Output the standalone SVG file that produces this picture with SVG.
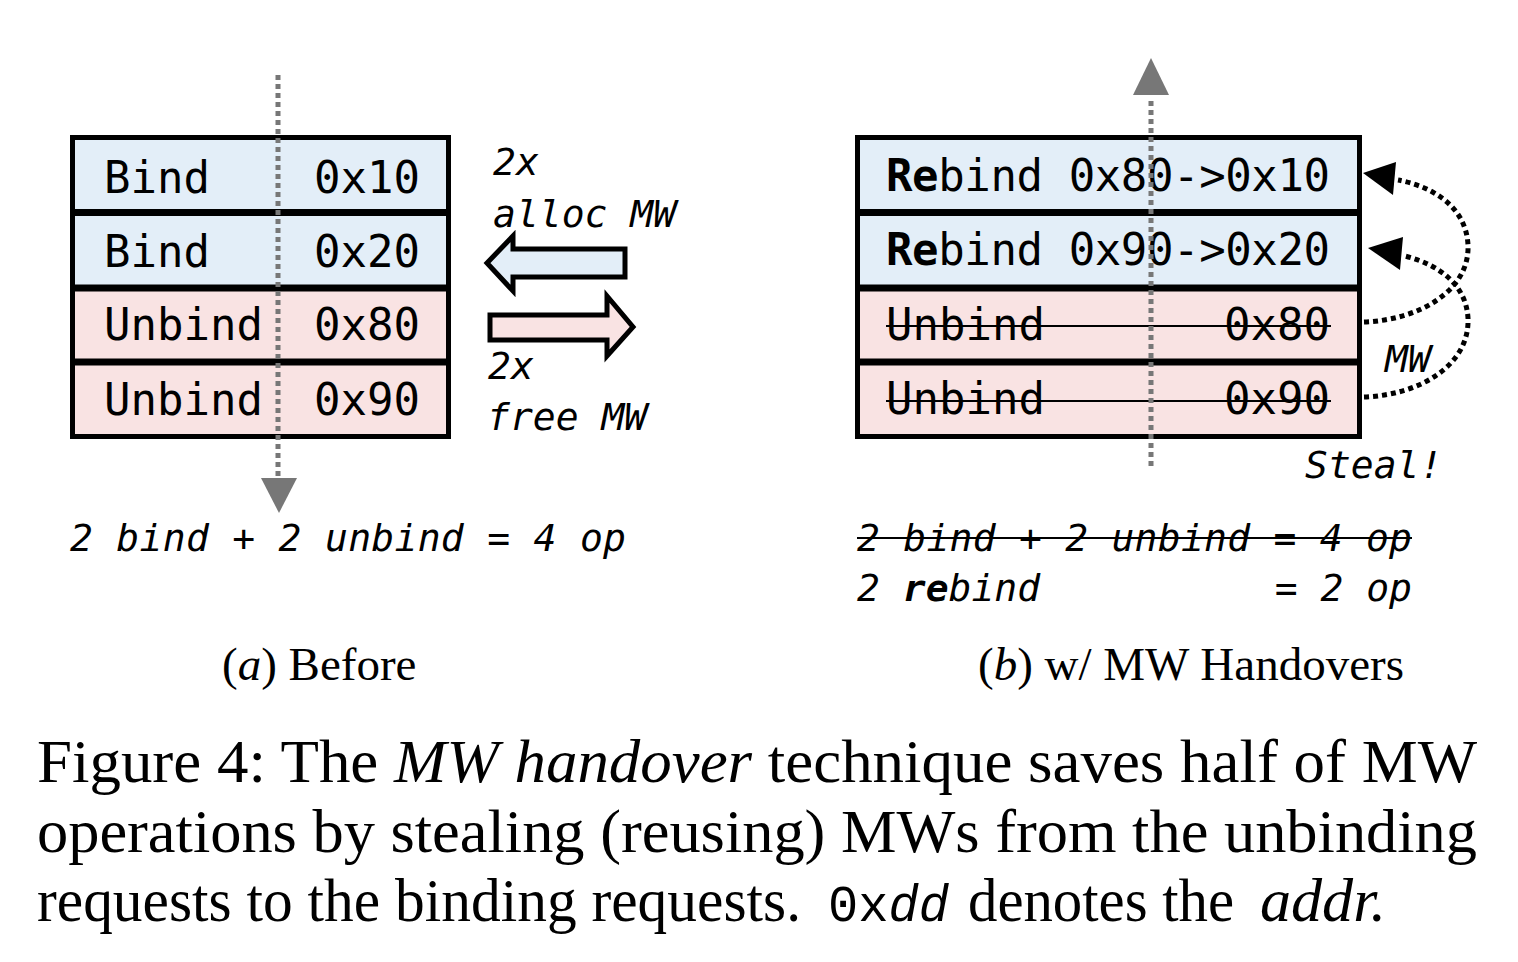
<svg xmlns="http://www.w3.org/2000/svg" width="1518" height="962" viewBox="0 0 1518 962">
<defs>
<style>
.mono{font-family:"DejaVu Sans Mono","Liberation Mono",monospace;font-size:44px;fill:#000}
.it{font-family:"DejaVu Sans Mono","Liberation Mono",monospace;font-size:38px;font-style:italic;fill:#000}
.serif{font-family:"Liberation Serif","Times New Roman",serif;fill:#000}
.blue{fill:#e3eef8;stroke:#000;stroke-width:5}
.pink{fill:#f9e3e3;stroke:#000;stroke-width:5}
.axis{stroke:#777;stroke-width:5;stroke-dasharray:5 4;fill:none}
.steal{stroke:#000;stroke-width:5;stroke-dasharray:5 4;fill:none}
.strike{stroke:#000;stroke-width:2}
.blk{stroke:#000;stroke-width:5;stroke-linejoin:miter}
</style>
</defs>
<rect width="1518" height="962" fill="#fff"/>

<!-- Left (a) rows -->
<g id="a-row1"><rect class="blue" x="72.5" y="137.5" width="376" height="74"/><text class="mono" x="104" y="193">Bind</text><text class="mono" x="314" y="193">0x10</text></g>
<g id="a-row2"><rect class="blue" x="72.5" y="213.5" width="376" height="73.5"/><text class="mono" x="104" y="267">Bind</text><text class="mono" x="314" y="267">0x20</text></g>
<g id="a-row3"><rect class="pink" x="72.5" y="289" width="376" height="72"/><text class="mono" x="104" y="340">Unbind</text><text class="mono" x="314" y="340">0x80</text></g>
<g id="a-row4"><rect class="pink" x="72.5" y="363" width="376" height="73.5"/><text class="mono" x="104" y="415">Unbind</text><text class="mono" x="314" y="415">0x90</text></g>

<!-- Right (b) rows -->
<g id="b-row1"><rect class="blue" x="857.5" y="137.5" width="502" height="74"/><text class="mono" x="886" y="191" textLength="444"><tspan font-weight="bold">Re</tspan>bind 0x80-&gt;0x10</text></g>
<g id="b-row2"><rect class="blue" x="857.5" y="213.5" width="502" height="73.5"/><text class="mono" x="886" y="265" textLength="444"><tspan font-weight="bold">Re</tspan>bind 0x90-&gt;0x20</text></g>
<g id="b-row3"><rect class="pink" x="857.5" y="289" width="502" height="72"/><text class="mono" x="886" y="340">Unbind</text><text class="mono" x="1330" y="340" text-anchor="end">0x80</text><line class="strike" x1="886" y1="326" x2="1331" y2="326"/></g>
<g id="b-row4"><rect class="pink" x="857.5" y="363" width="502" height="73.5"/><text class="mono" x="886" y="414">Unbind</text><text class="mono" x="1330" y="414" text-anchor="end">0x90</text><line class="strike" x1="886" y1="401" x2="1331" y2="401"/></g>

<!-- Block arrows -->
<g id="alloc-arrow"><polygon class="blk" fill="#e3eef8" points="625,249 513,249 513,236 487,263 513,291 513,277 625,277"/></g>
<g id="free-arrow"><polygon class="blk" fill="#f9e3e3" points="490,315 607,315 607,296 633,327 607,356 607,340 490,340"/></g>

<!-- Connectors -->
<g id="connectors">
<line class="axis" x1="278" y1="75" x2="278" y2="478"/>
<polygon fill="#777" points="261,478 297,478 279,513"/>
<line class="axis" x1="1151" y1="466" x2="1151" y2="97"/>
<polygon fill="#777" points="1133,95 1169,95 1151,58"/>
<path class="steal" d="M1364,322 C1420,320 1470,290 1468,245 C1466,205 1430,186 1398,180"/>
<polygon fill="#000" points="1363,173 1396,162 1393,195"/>
<path class="steal" d="M1364,397 C1420,395 1470,365 1468,318 C1466,285 1440,265 1405,256"/>
<polygon fill="#000" points="1368,248 1403,237 1400,270"/>
</g>

<!-- Labels -->
<g id="labels">
<text class="it" x="493" y="175">2x</text>
<text class="it" x="493" y="227">alloc MW</text>
<text class="it" x="488" y="379">2x</text>
<text class="it" x="487" y="430">free MW</text>
<text class="it" x="1385" y="372">MW</text>
<text class="it" x="1305" y="478">Steal!</text>
<text class="it" x="70" y="551" textLength="556">2 bind + 2 unbind = 4 op</text>
<text class="it" x="857" y="551" textLength="555">2 bind + 2 unbind = 4 op</text>
<line class="strike" x1="857" y1="538" x2="1412" y2="538"/>
<text class="it" x="857" y="601">2 <tspan font-weight="bold">re</tspan>bind</text>
<text class="it" x="1412" y="601" text-anchor="end">= 2 op</text>
</g>

<!-- Sub-captions -->
<g id="subcaptions">
<text class="serif" font-size="47" x="222" y="680">(<tspan font-style="italic">a</tspan>) Before</text>
<text class="serif" font-size="47" x="978" y="680">(<tspan font-style="italic">b</tspan>) w/ MW Handovers</text>
</g>

<!-- Caption -->
<g id="caption">
<text class="serif" font-size="62" x="37" y="782" textLength="1440" lengthAdjust="spacingAndGlyphs">Figure 4: The <tspan font-style="italic">MW handover</tspan> technique saves half of MW</text>
<text class="serif" font-size="62" x="37" y="852" textLength="1440" lengthAdjust="spacingAndGlyphs">operations by stealing (reusing) MWs from the unbinding</text>
<text class="serif" font-size="62" x="37" y="921" textLength="764" lengthAdjust="spacingAndGlyphs">requests to the binding requests.</text>
<text font-family="Liberation Mono, monospace" font-size="52" x="828" y="921" textLength="121" lengthAdjust="spacingAndGlyphs">0x<tspan font-style="italic">dd</tspan></text>
<text class="serif" font-size="62" x="968" y="921" textLength="266" lengthAdjust="spacingAndGlyphs">denotes the</text>
<text class="serif" font-size="62" font-style="italic" x="1260" y="921" textLength="126" lengthAdjust="spacingAndGlyphs">addr.</text>
</g>
</svg>
